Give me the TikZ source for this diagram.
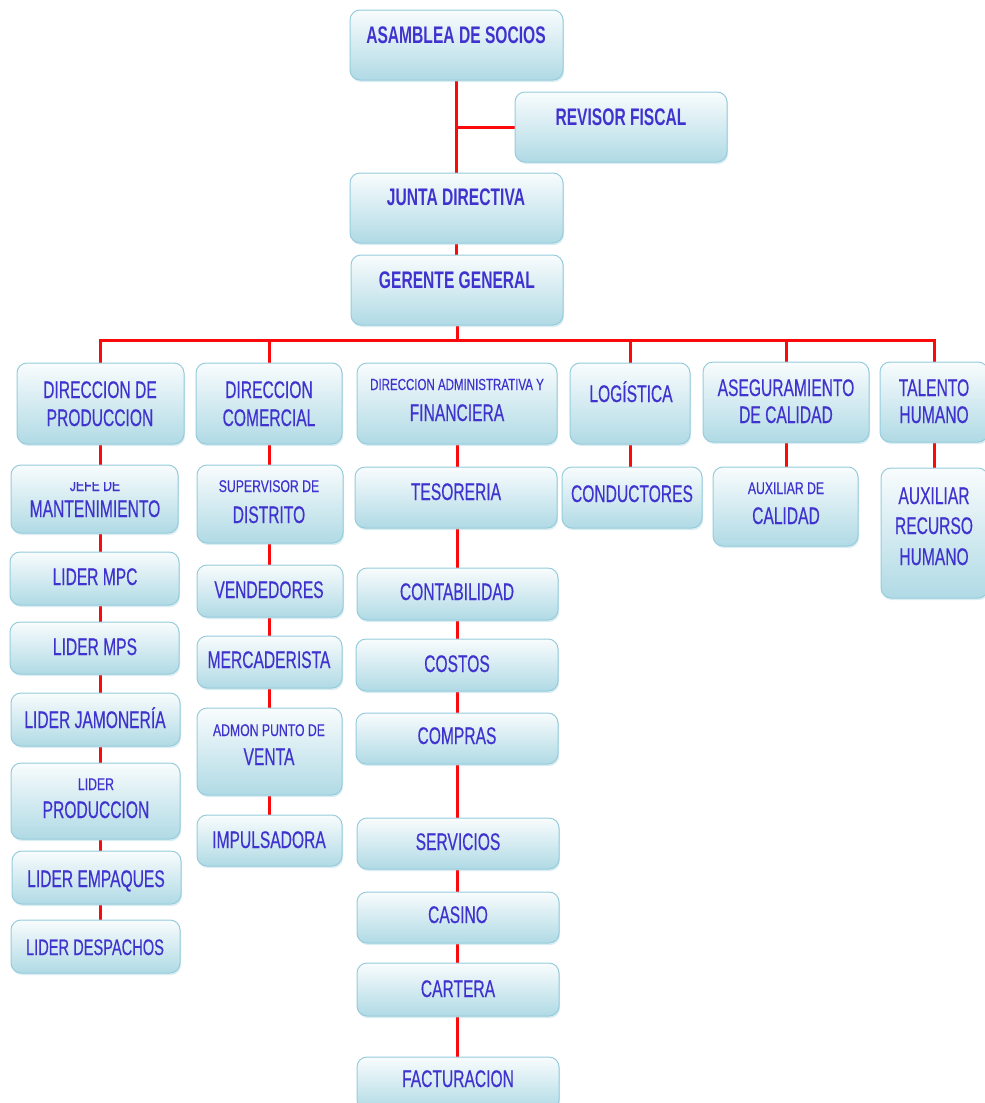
\documentclass[tikz,border=0pt]{standalone}
\usepackage{fontspec}
\newfontfamily\narf{Liberation Sans}[FakeStretch=0.65,FakeBold=0.4]
\newfontfamily\narbf{Liberation Sans Bold}[FakeStretch=0.65]
\newfontfamily\narsf{Liberation Sans}[FakeStretch=0.72,FakeBold=0.3]
\usetikzlibrary{shadows}
\definecolor{boxblue}{RGB}{176,218,229}
\definecolor{boxedge}{RGB}{150,204,220}
\definecolor{txtblue}{RGB}{64,50,206}
\definecolor{linered}{RGB}{250,10,10}
\pgfdeclarelayer{back}
\pgfdeclarelayer{bg}
\pgfsetlayers{back,bg,main}
\tikzset{
  box/.style={draw=boxedge, line width=1pt, rounded corners=10pt,
    top color=white!92!boxblue, bottom color=boxblue, inner sep=0pt,
    drop shadow={shadow xshift=1pt, shadow yshift=-2pt, fill=boxedge, opacity=0.35}},
  tb/.style={text=txtblue, font=\narbf\fontsize{24}{26}\selectfont, inner sep=0pt, anchor=base},
  tm/.style={text=txtblue, font=\narf\fontsize{24}{26}\selectfont, inner sep=0pt, anchor=base},
  ts/.style={text=txtblue, font=\narsf\fontsize{17}{19}\selectfont, inner sep=0pt, anchor=base},
  link/.style={draw=linered, line width=3pt},
}
\newcommand\orgbox[5]{\node[box, minimum width={(#4-#2)*1pt}, minimum height={(#5-#3)*1pt}] (#1) at ({(#2+#4)/2},{(#3+#5)/2}) {};}
\begin{document}
\begin{tikzpicture}[x=1pt,y=-1pt]
\begin{pgfonlayer}{back}
\fill[white] (0,0) rectangle (985,1103);
\end{pgfonlayer}
\useasboundingbox (0,0) rectangle (985,1103);
% top
\orgbox{asam}{350}{10}{563}{80}
\node[tb] (asam-t) at (456,43) {ASAMBLEA DE SOCIOS};
\orgbox{rev}{515}{92}{727}{162}
\node[tb] (rev-t) at (621,125) {REVISOR FISCAL};
\orgbox{junta}{350}{173}{563}{243}
\node[tb] (junta-t) at (456,205) {JUNTA DIRECTIVA};
\orgbox{ger}{351}{255}{563}{325}
\node[tb] (ger-t) at (457,288) {GERENTE GENERAL};
\coordinate (bus) at (0,340);
% level 2
\orgbox{dprod}{17}{363}{184}{444}
\node[tm] (dprod-t1) at (100,398) {DIRECCION DE};
\node[tm] (dprod-t2) at (100,426) {PRODUCCION};
\orgbox{dcom}{196}{363}{342}{444}
\node[tm] (dcom-t1) at (269,398) {DIRECCION};
\node[tm] (dcom-t2) at (269,426) {COMERCIAL};
\orgbox{dadm}{357}{363}{557}{444}
\node[ts, font=\narsf\fontsize{16}{18}\selectfont] (dadm-t1) at (457,390) {DIRECCION ADMINISTRATIVA Y};
\node[tm] (dadm-t2) at (457,421) {FINANCIERA};
\orgbox{dlog}{570}{363}{690}{444}
\node[tm] (dlog-t) at (631,402) {LOGÍSTICA};
\orgbox{dcal}{703}{362}{869}{442}
\node[tm] (dcal-t1) at (786,396) {ASEGURAMIENTO};
\node[tm] (dcal-t2) at (786,423) {DE CALIDAD};
\orgbox{dtal}{880}{362}{988}{442}
\node[tm] (dtal-t1) at (934,396) {TALENTO};
\node[tm] (dtal-t2) at (934,423) {HUMANO};
% production column
\orgbox{jefe}{11}{465}{178}{533}
\begin{scope}
\clip (0,482) rectangle (200,500);
\node[ts] (jefe-t1) at (95,491) {JEFE DE};
\end{scope}
\node[tm] (jefe-t2) at (95,517) {MANTENIMIENTO};
\orgbox{mpc}{10}{552}{179}{605}
\node[tm] (mpc-t) at (95,585) {LIDER MPC};
\orgbox{mps}{10}{622}{179}{674}
\node[tm] (mps-t) at (95,655) {LIDER MPS};
\orgbox{jam}{11}{693}{180}{746}
\node[tm] (jam-t) at (95,728) {LIDER JAMONERÍA};
\orgbox{lprod}{11}{763}{180}{839}
\node[ts] (lprod-t1) at (96,790) {LIDER};
\node[tm] (lprod-t2) at (96,818) {PRODUCCION};
\orgbox{emp}{12}{851}{181}{904}
\node[tm] (emp-t) at (96,887) {LIDER EMPAQUES};
\orgbox{desp}{11}{920}{180}{973}
\node[tm, font=\narf\fontsize{22.5}{24}\selectfont] (desp-t) at (95,955) {LIDER DESPACHOS};
% commercial column
\orgbox{sup}{197}{465}{343}{543}
\node[ts] (sup-t1) at (269,492) {SUPERVISOR DE};
\node[tm] (sup-t2) at (269,523) {DISTRITO};
\orgbox{vend}{197}{565}{343}{617}
\node[tm] (vend-t) at (269,598) {VENDEDORES};
\orgbox{merc}{197}{636}{342}{688}
\node[tm] (merc-t) at (269,668) {MERCADERISTA};
\orgbox{admon}{197}{708}{342}{795}
\node[ts] (admon-t1) at (269,736) {ADMON PUNTO DE};
\node[tm] (admon-t2) at (269,765) {VENTA};
\orgbox{impul}{197}{815}{342}{866}
\node[tm] (impul-t) at (269,848) {IMPULSADORA};
% admin column
\orgbox{teso}{355}{467}{557}{528}
\node[tm] (teso-t) at (456,500) {TESORERIA};
\orgbox{conta}{357}{568}{558}{620}
\node[tm] (conta-t) at (457,600) {CONTABILIDAD};
\orgbox{costos}{356}{639}{558}{691}
\node[tm] (costos-t) at (457,672) {COSTOS};
\orgbox{compras}{356}{713}{558}{764}
\node[tm] (compras-t) at (457,744) {COMPRAS};
\orgbox{serv}{357}{818}{559}{869}
\node[tm] (serv-t) at (458,850) {SERVICIOS};
\orgbox{casino}{357}{892}{559}{943}
\node[tm] (casino-t) at (458,923) {CASINO};
\orgbox{cartera}{357}{963}{559}{1016}
\node[tm] (cartera-t) at (458,997) {CARTERA};
\orgbox{fact}{357}{1057}{559}{1110}
\node[tm] (fact-t) at (458,1087) {FACTURACION};
% logistics
\orgbox{cond}{562}{467}{702}{528}
\node[tm] (cond-t) at (632,502) {CONDUCTORES};
% quality
\orgbox{auxcal}{713}{467}{858}{546}
\node[ts] (auxcal-t1) at (786,494) {AUXILIAR DE};
\node[tm] (auxcal-t2) at (786,524) {CALIDAD};
% talent
\orgbox{auxrh}{881}{468}{988}{598}
\node[tm] (auxrh-t1) at (934,504) {AUXILIAR};
\node[tm] (auxrh-t2) at (934,534) {RECURSO};
\node[tm] (auxrh-t3) at (934,565) {HUMANO};
% connectors
\begin{pgfonlayer}{bg}
\draw[link] (asam.south) -- (junta.north);
\draw[link] (rev.west) -- (rev.west -| asam.south);
\draw[link] (junta.south) -- (ger.north -| junta.south);
\draw[link] (ger.south) -- (ger.south |- bus);
\draw[link] (dprod.north) -- (dprod.north |- bus) -| (dtal.north);
\draw[link] (dcom.north) -- (dcom.north |- bus);
\draw[link] (dlog.north) -- (dlog.north |- bus);
\draw[link] (dcal.north) -- (dcal.north |- bus);
\draw[link] (dprod.south) -- (dprod.south |- jefe.north);
\draw[link] (jefe.south -| dprod.south) -- (dprod.south |- mpc.north);
\draw[link] (mpc.south -| dprod.south) -- (dprod.south |- mps.north);
\draw[link] (mps.south -| dprod.south) -- (dprod.south |- jam.north);
\draw[link] (jam.south -| dprod.south) -- (dprod.south |- lprod.north);
\draw[link] (lprod.south -| dprod.south) -- (dprod.south |- emp.north);
\draw[link] (emp.south -| dprod.south) -- (dprod.south |- desp.north);
\draw[link] (dcom.south) -- (sup.north -| dcom.south);
\draw[link] (sup.south -| dcom.south) -- (vend.north -| dcom.south);
\draw[link] (vend.south -| dcom.south) -- (merc.north -| dcom.south);
\draw[link] (merc.south -| dcom.south) -- (admon.north -| dcom.south);
\draw[link] (admon.south -| dcom.south) -- (impul.north -| dcom.south);
\draw[link] (dadm.south) -- (teso.north -| dadm.south);
\draw[link] (teso.south -| dadm.south) -- (conta.north -| dadm.south);
\draw[link] (conta.south -| dadm.south) -- (costos.north -| dadm.south);
\draw[link] (costos.south -| dadm.south) -- (compras.north -| dadm.south);
\draw[link] (compras.south -| dadm.south) -- (serv.north -| dadm.south);
\draw[link] (serv.south -| dadm.south) -- (casino.north -| dadm.south);
\draw[link] (casino.south -| dadm.south) -- (cartera.north -| dadm.south);
\draw[link] (cartera.south -| dadm.south) -- (fact.north -| dadm.south);
\draw[link] (dlog.south) -- (cond.north -| dlog.south);
\draw[link] (dcal.south) -- (auxcal.north -| dcal.south);
\draw[link] (dtal.south) -- (auxrh.north -| dtal.south);
\end{pgfonlayer}
\end{tikzpicture}
\end{document}
